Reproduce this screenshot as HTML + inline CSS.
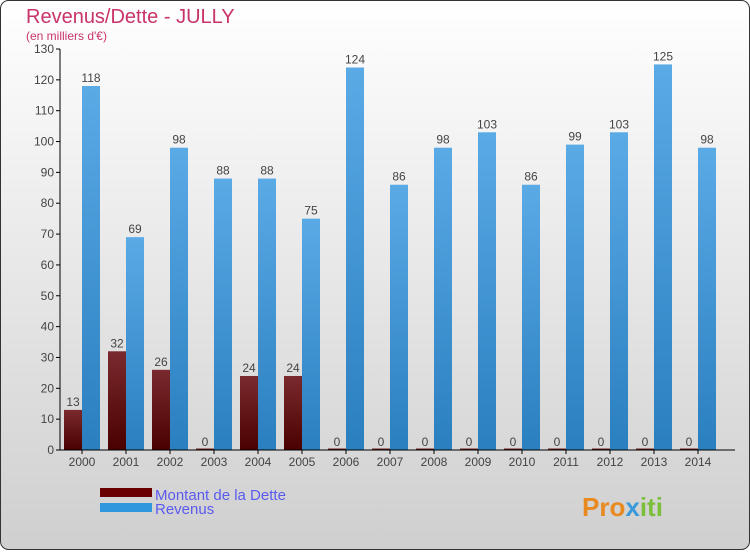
<!DOCTYPE html>
<html><head><meta charset="utf-8"><style>
body{margin:0;width:750px;height:550px;overflow:hidden;font-family:"Liberation Sans",sans-serif}
</style></head><body>
<svg id="c" width="750" height="550" xmlns="http://www.w3.org/2000/svg">
<defs>
<linearGradient id="bg" x1="0" y1="0" x2="0" y2="1"><stop offset="0" stop-color="#ffffff"/><stop offset="1" stop-color="#cfcfcf"/></linearGradient>
<linearGradient id="gr" x1="0" y1="0" x2="0" y2="1"><stop offset="0" stop-color="#7a2a2e"/><stop offset="1" stop-color="#4a0000"/></linearGradient>
<linearGradient id="gb" x1="0" y1="0" x2="0" y2="1"><stop offset="0" stop-color="#5aaae6"/><stop offset="1" stop-color="#2a7fbf"/></linearGradient>
</defs>
<rect x="0.5" y="0.5" width="749" height="549" rx="8" fill="url(#bg)" stroke="#333"/>
<text x="26" y="23" font-size="20" fill="#c8336a">Revenus/Dette - JULLY</text>
<text x="26" y="40" font-size="12" fill="#c8336a">(en milliers d'€)</text>
<g id="plot"></g>
<rect x="100" y="488" width="52" height="9" fill="#6b0000"/>
<rect x="100" y="503" width="52" height="9" fill="#2e97dd"/>
<text x="155" y="500" font-size="15" fill="#5a5af0">Montant de la Dette</text>
<text x="155" y="514" font-size="15" fill="#5a5af0">Revenus</text>
<text x="582" y="516" font-size="26" font-weight="bold" fill="#e88a20">Pro<tspan fill="#3a9ad9">x</tspan><tspan fill="#7bbf3a">iti</tspan></text>
</svg>
<script>
const years=["2000","2001","2002","2003","2004","2005","2006","2007","2008","2009","2010","2011","2012","2013","2014"];
const dette=[13,32,26,0,24,24,0,0,0,0,0,0,0,0,0];
const revenus=[118,69,98,88,88,75,124,86,98,103,86,99,103,125,98];
const yTicks=[0,10,20,30,40,50,60,70,80,90,100,110,120,130];
const NS="http://www.w3.org/2000/svg";
const g=document.getElementById('plot');
const y0=450,yTop=49,yMax=130;
const Y=v=>y0-(v/yMax)*(y0-yTop);
const X=i=>82+44*i;
function el(t,a,txt){const e=document.createElementNS(NS,t);for(const k in a)e.setAttribute(k,a[k]);if(txt!==undefined)e.textContent=txt;g.appendChild(e);return e;}
yTicks.forEach(v=>{
 const l=el('line',{x1:56,x2:60,y1:Y(v),y2:Y(v),stroke:'#000'});
 
 
 const t=el('text',{x:54,y:Y(v)+4,'font-size':12,fill:'#444','text-anchor':'end'},v);
 
 
});
years.forEach((yr,i)=>{
 const c=X(i);
 const hd=Math.max(Y(0)-Y(dette[i]),1.5);
 const b1=el('rect',{x:c-18,y:Y(0)-hd,width:18,height:hd,fill:'url(#gr)'});
 
 
 const b2=el('rect',{x:c,y:Y(revenus[i]),width:18,height:Y(0)-Y(revenus[i]),fill:'url(#gb)'});
 
 
 const t1=el('text',{x:c-9,y:Y(dette[i])-4,'font-size':12,fill:'#444','text-anchor':'middle'},dette[i]);
 
 
 const t2=el('text',{x:c+9,y:Y(revenus[i])-4,'font-size':12,fill:'#444','text-anchor':'middle'},revenus[i]);
 
 
 const xl=el('text',{x:c,y:466,'font-size':12,fill:'#444','text-anchor':'middle'},yr);
 
 
 const tk=el('line',{x1:c,x2:c,y1:450,y2:454,stroke:'#000'});
 
 
});
const ya=el('line',{x1:60,x2:60,y1:yTop,y2:450,stroke:'#000'});


const xa=el('line',{x1:60,x2:735,y1:450,y2:450,stroke:'#000'});


</script>
</body></html>
